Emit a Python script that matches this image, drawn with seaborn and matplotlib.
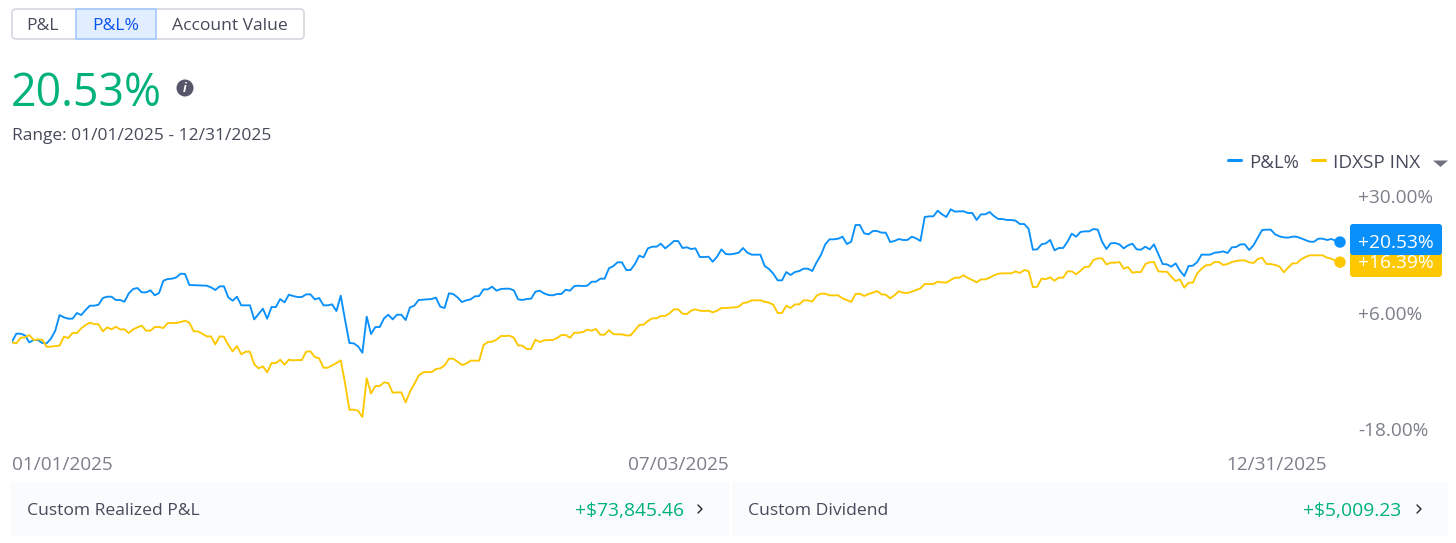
import pandas as pd
import matplotlib
matplotlib.use("Agg")
import matplotlib.pyplot as plt
from matplotlib.patches import FancyBboxPatch, Rectangle, Circle, Polygon
import seaborn as sns

# cumulative return in %, one value per point on the chart
pnl_pct = [
    0.0, 1.65, 1.65, 1.3, -0.14, 0.34, 0.34, -0.27, -0.34, 0.62,
    2.27, 5.49, 5.01, 4.74, 4.74, 5.91, 5.49, 6.52, 7.42, 7.42,
    7.62, 9.0, 9.27, 9.27, 8.59, 8.59, 8.24, 9.96, 10.85, 11.06,
    10.16, 10.16, 10.58, 9.55, 10.03, 12.57, 12.91, 12.98, 13.26, 14.01,
    13.94, 11.68, 11.65, 11.61, 11.6, 11.54, 11.2, 10.65, 11.4, 11.4,
    9.13, 8.45, 9.27, 7.49, 7.49, 7.49, 4.6, 5.7, 6.8, 4.74,
    7.14, 7.14, 8.79, 8.1, 9.68, 9.41, 9.2, 9.2, 9.75, 9.75,
    8.72, 9.0, 7.49, 7.49, 7.69, 6.32, 9.48, 4.46, -0.27, -0.34,
    -0.96, -2.27, 5.15, 1.58, 3.02, 3.02, 4.81, 5.56, 4.6, 5.56,
    5.56, 4.46, 7.07, 7.42, 8.59, 8.65, 8.72, 8.79, 9.07, 7.21,
    6.94, 9.96,
    9.82, 9.13, 8.17, 8.52, 8.72, 9.34, 9.41, 10.78, 10.78, 11.33,
    10.51, 10.85, 10.92, 10.92, 10.58, 8.72, 8.59, 8.79, 8.86, 10.3,
    10.51, 9.96, 9.62, 9.55, 9.82, 9.82, 10.71, 10.51, 11.47, 11.54,
    11.47, 11.54, 12.36, 12.36, 12.98, 12.98, 15.11, 15.59, 16.35, 16.35,
    14.77, 14.77, 16.0, 17.72, 17.38, 19.23, 19.57, 19.57, 20.19, 19.23,
    19.92, 20.74, 20.74, 19.3, 19.44, 19.09, 19.23, 17.45, 17.45, 17.51,
    16.48, 17.51, 19.02, 18.06, 17.99, 18.13, 18.34, 19.3, 18.34, 17.93,
    17.93, 17.93, 15.59, 14.97, 14.01, 12.64, 12.64, 14.35, 13.74, 14.35,
    14.56, 15.04, 15.04, 14.56, 16.35, 17.86, 20.05, 21.09, 21.09, 21.22,
    21.63, 20.12, 20.6, 24.04, 24.04, 22.32, 22.12, 22.8, 22.8, 22.46,
    22.46, 20.54, 20.74, 21.15,
    20.95, 20.95, 21.63, 21.29, 20.74, 25.69, 25.82, 25.82, 26.99, 26.24,
    25.69, 27.27, 26.79, 26.86, 26.86, 26.51, 26.51, 25.07, 26.24, 26.24,
    26.72, 25.89, 25.27, 25.27, 25.07, 25.07, 24.93, 24.24, 24.24, 23.28,
    18.96, 19.02, 20.05, 20.26, 20.95, 18.82, 19.3, 19.3, 20.6, 22.25,
    21.63, 22.6, 22.73, 22.73, 23.21, 23.08, 20.6, 19.09, 20.26, 20.33,
    20.05, 19.23, 19.85, 20.19, 19.02, 18.96, 19.57, 19.02, 20.05, 18.06,
    16.0, 15.93, 15.45, 16.14, 14.63, 13.53, 15.59, 15.66, 16.41, 17.93,
    17.93, 17.93, 18.34, 18.41, 18.61, 18.27, 19.44, 19.51, 20.05, 20.05,
    18.89, 19.85, 21.43, 23.01, 23.08, 23.08, 22.12, 21.7, 21.5, 21.43,
    21.63, 21.63, 21.29, 20.95, 20.6, 20.6, 21.22, 21.22, 20.95, 21.15,
    20.81, 20.53,
]
index_pct = [
    -0.14, -0.34, 0.82, 0.89, 1.37, 0.34, 0.48, 0.41, -1.03, -1.03,
    -0.89, -0.82, 1.03, 0.76, 1.79, 1.79, 2.75, 3.43, 3.91, 3.64,
    3.57, 2.13, 2.95, 2.54, 3.09, 2.54, 2.54, 1.79, 2.54, 2.95,
    3.3, 2.27, 2.27, 3.02, 3.02, 2.82, 3.85, 3.85, 3.85, 4.05,
    4.33, 3.91, 2.13, 2.13, 1.65, 1.1, 1.1, -0.55, 1.1, 1.03,
    -0.69, -1.99, -0.89, -2.61, -2.06, -2.06, -4.67, -5.49, -5.08, -6.32,
    -4.4, -4.4, -3.71, -4.74, -3.71, -3.85, -3.78, -3.78, -2.06, -1.99,
    -3.16, -3.43, -5.36, -5.36, -4.88, -4.4, -3.85, -8.59, -14.01, -14.01,
    -14.22, -15.52, -7.55, -10.65, -9.13, -9.13, -8.38, -8.52, -10.51, -10.44,
    -10.44, -12.5, -10.3, -8.72, -7.0, -6.32, -6.25, -6.25, -5.63, -5.49,
    -4.88, -3.5,
    -3.5, -4.11, -4.8, -4.52, -3.91, -3.91, -3.91,
    -0.69, -0.07, 0.0, 0.41, 1.17, 1.17, 1.24, 0.82, -0.76, -0.82,
    -1.51, -1.51, 0.41, -0.07, 0.27, 0.34, 0.34, 0.76, 1.37, 1.37,
    0.82, 1.85, 1.85, 1.99, 2.47, 2.27, 2.61, 1.44, 1.44, 2.4,
    1.58, 1.51, 1.51, 1.3, 1.3, 2.34, 3.43, 3.5, 4.26, 4.81,
    4.81, 5.29, 5.29, 5.84, 6.66, 6.66, 5.77, 5.7, 6.39, 6.66,
    6.39, 6.32, 6.39, 6.04, 6.39, 6.94, 6.94, 7.01, 7.07, 7.21,
    7.97, 8.1, 8.52, 8.52, 8.52, 8.24, 8.04, 7.62, 5.91, 5.91,
    7.42, 6.94, 7.69, 7.69, 8.52, 8.52, 8.24, 9.48, 9.89, 9.89,
    9.55, 9.55, 9.55, 8.93, 8.59, 8.17, 9.82, 9.89, 9.41, 9.82,
    10.1, 10.44, 9.75, 9.68, 8.93, 9.55, 10.37,
    10.1, 10.03, 10.3, 10.65, 10.99, 11.88, 11.88, 11.88, 12.36, 12.23,
    12.16, 12.71, 13.19, 13.19, 13.67, 13.12, 12.71, 12.23, 12.84, 12.84,
    13.19, 13.67, 14.01, 14.08, 14.08, 14.08, 14.49, 14.15, 14.77, 14.56,
    11.26, 11.33, 12.98, 12.91, 13.26, 12.57, 13.19, 13.19, 14.49, 14.49,
    13.87, 14.63, 15.38, 15.45, 16.83, 17.17, 17.17, 15.93, 16.28, 16.28,
    16.41, 15.04, 15.38, 14.22, 14.35, 14.35, 16.0, 16.35, 16.41, 14.49,
    14.42, 14.42, 13.39, 12.5, 12.84, 11.13, 12.16, 12.16, 14.08, 15.04,
    15.73, 15.8, 16.41, 16.41, 15.8, 16.0, 16.41, 16.62, 16.76, 16.76,
    16.35, 16.21, 17.03, 17.31, 16.0, 16.0, 15.8, 15.52, 14.29, 15.25,
    16.14, 16.14, 16.96, 17.44, 17.8, 17.8, 17.8, 17.8, 17.31, 17.1,
    16.62, 16.39,
]
y_ticks = [30, 6, -18]
y_labels = ["+30.00%", "+6.00%", "-18.00%"]
x_ticks = [0, 154, 304]
x_labels = ["01/01/2025", "07/03/2025", "12/31/2025"]
series_names = ["P&L%", "IDXSP INX"]

W, H = 1456, 543
BLUE = "#0a90fb"
YELLOW = "#fdc800"
GREEN = "#00b27a"
DARK = "#474a5a"
GREY = "#7c7e8a"

sns.set_theme(style="white")
plt.rcParams["font.family"] = ["Open Sans", "DejaVu Sans"]

df = pd.concat(
    [
        pd.DataFrame({"session": range(len(pnl_pct)), "pct": pnl_pct, "series": series_names[0]}),
        pd.DataFrame({"session": range(len(index_pct)), "pct": index_pct, "series": series_names[1]}),
    ]
)

fig = plt.figure(figsize=(W / 100, H / 100), dpi=100, facecolor="white")

# chart area: x 12-1340 px, y 190-440 px
ax = fig.add_axes([12 / W, 1 - 440 / H, 1328 / W, 250 / H])
sns.lineplot(
    data=df, x="session", y="pct", hue="series", palette=[BLUE, YELLOW],
    estimator=None, legend=False, linewidth=1.35, ax=ax,
)
ax.set_xlim(0, len(pnl_pct) - 1)
ax.set_ylim(-20.25, 31.25)
ax.set_xlabel("")
ax.set_ylabel("")
sns.despine(ax=ax, left=True, bottom=True)
ax.yaxis.tick_right()
ax.set_yticks(y_ticks, y_labels)
ax.set_xticks(x_ticks, x_labels)
ax.tick_params(axis="y", length=0, pad=13, labelsize=13.7, labelcolor=GREY)
ax.tick_params(axis="x", length=0, pad=11.3, labelsize=13.7, labelcolor=GREY)
for lab, ha in zip(ax.get_xticklabels(), ["left", "center", "right"]):
    lab.set_ha(ha)

ax.scatter(
    [len(pnl_pct) - 1, len(index_pct) - 1], [pnl_pct[-1], index_pct[-1]],
    s=68, c=[BLUE, YELLOW], clip_on=False, zorder=5, linewidths=0,
)

# page furniture, in pixel coordinates
ui = fig.add_axes([0, 0, 1, 1], facecolor="none")
ui.set_xlim(0, W)
ui.set_ylim(H, 0)
ui.axis("off")


def rbox(x0, y0, x1, y1, r=3, **kw):
    ui.add_patch(FancyBboxPatch((x0 + r, y0 + r), x1 - x0 - 2 * r, y1 - y0 - 2 * r,
                                boxstyle=f"round,pad={r},rounding_size={r}", **kw))


# tabs
rbox(12, 9, 304, 39, r=4, fc="white", ec="#d3d6de", lw=1.2)
ui.add_patch(Rectangle((76, 9), 80, 30, fc="#e2eeff", ec="#a3c8fa", lw=1.2))
ui.text(43, 26.5, "P&L", ha="center", va="center", fontsize=12.6, color=DARK)
ui.text(116, 26.5, "P&L%", ha="center", va="center", fontsize=12.6, color="#0a55ea")
ui.text(230, 26.5, "Account Value", ha="center", va="center", fontsize=12.6, color=DARK)

# headline
ui.text(11, 93.5, "20.53%", ha="left", va="center", fontsize=32.2, color=GREEN)
ui.add_patch(Circle((185, 88), 8.5, fc="#55566a", ec="none"))
ui.text(185, 88, "i", ha="center", va="center", fontsize=9, color="white", style="italic", fontweight="bold")
ui.text(12, 136, "Range: 01/01/2025 - 12/31/2025", ha="left", va="center", fontsize=12.55, color=DARK)

# legend
ui.plot([1228, 1241], [160, 160], color=BLUE, lw=2.2, solid_capstyle="round")
ui.text(1249, 163, series_names[0], ha="left", va="center", fontsize=13.4, color=DARK)
ui.plot([1312, 1325], [160, 160], color=YELLOW, lw=2.2, solid_capstyle="round")
ui.text(1333, 163, series_names[1], ha="left", va="center", fontsize=13.6, color=DARK)
ui.add_patch(Polygon([[1433, 160.5], [1448, 160.5], [1440.5, 167]], fc="#6f7180", ec="none"))

# end labels, blue sits over the yellow one
rbox(1350, 247, 1442, 277, r=3, fc=YELLOW, ec="none")
ui.text(1395.5, 263, f"+{index_pct[-1]:.2f}%", ha="center", va="center", fontsize=13.8, color="white")
rbox(1350, 224, 1442, 255, r=3, fc=BLUE, ec="none")
ui.text(1395.5, 242.5, f"+{pnl_pct[-1]:.2f}%", ha="center", va="center", fontsize=13.8, color="white")

# bottom panels
ui.add_patch(Rectangle((11, 482), 718, 54, fc="#fafbfd", ec="none"))
ui.add_patch(Rectangle((732, 482), 716, 54, fc="#fafbfd", ec="none"))
ui.text(27, 511, "Custom Realized P&L", ha="left", va="center", fontsize=12.6, color=DARK)
ui.text(684, 511, "+$73,845.46", ha="right", va="center", fontsize=13.9, color=GREEN)
ui.plot([698, 702, 698], [505, 509, 513], color="#23252f", lw=1)
ui.text(748, 511, "Custom Dividend", ha="left", va="center", fontsize=12.6, color=DARK)
ui.text(1401, 511, "+$5,009.23", ha="right", va="center", fontsize=13.9, color=GREEN)
ui.plot([1417, 1421, 1417], [505, 509, 513], color="#23252f", lw=1)

fig.savefig("out.png", dpi=100)
